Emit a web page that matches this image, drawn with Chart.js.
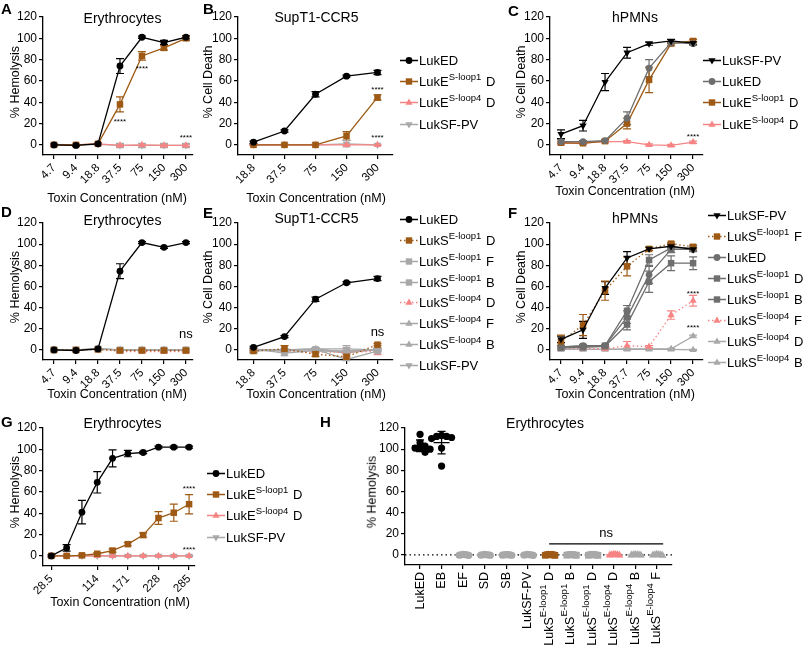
<!DOCTYPE html>
<html><head><meta charset="utf-8">
<script src="https://cdn.jsdelivr.net/npm/chart.js@4.4.1/dist/chart.umd.min.js"></script>
<style>
html,body{margin:0;padding:0;background:#fff}
body{width:805px;height:650px;position:relative;overflow:hidden;font-family:"Liberation Sans",Arial,Helvetica,sans-serif;color:#000}
canvas{position:absolute}
.t{position:absolute;white-space:nowrap;line-height:1;z-index:2}
.c{transform:translate(-50%,-50%)}
.v{transform:translate(-50%,-50%) rotate(-90deg)}
.lt{font-weight:bold;font-size:15px;transform:translateY(-50%)}
.ttl{font-size:14px}
.ax{font-size:12.5px}
.lg{position:absolute;white-space:nowrap;line-height:1;font-size:13px;transform:translateY(-50%);display:flex;align-items:center;z-index:2}
.lg svg{display:block;margin-right:1px}
sup{font-size:9.5px;vertical-align:0;position:relative;top:-6px;margin-right:1px}
</style></head><body>
<script>
// ---------------- DATA ----------------
const yTicks=[0,20,40,60,80,100,120];
const concA=['4.7','9.4','18.8','37.5','75','150','300'];
const concB=['18.8','37.5','75','150','300'];
const concF=['4.7','9.4','18.8','37.7','75','150','300'];
const concG=[28.5,57,85.5,114,142.5,171,199.5,228,256.5,285];
const concGTicks=[28.5,114,171,228,285];
const concGLabels=['28.5','114','171','228','285'];

// Panel A (Erythrocytes)
const A_LukED=[0,-0.5,1,74,101,96,101], A_LukED_err=[1,1,1,7,1,2,1.5];
const A_S1D=[0,0,1,38,83.5,91,100], A_S1D_err=[0.5,0.5,0.5,7,4,2,2];
const A_S4D=[0,0,1,-0.5,0,-0.5,-0.5], A_S4D_err=[0.5,0.5,0.5,1,1,1,1];
const A_SFPV=[0,0,0.5,-0.5,-0.5,-0.5,-0.5], A_SFPV_err=[0,0,0,2,2,2,2];
// Panel B (SupT1-CCR5)
const B_LukED=[2.5,13,47.5,64.5,68], B_LukED_err=[1,1,2.5,1,2];
const B_S1D=[0,0,0,8.5,44.5], B_S1D_err=[0.5,0.5,0.5,4,2.5];
const B_S4D=[0,0,0,0,0], B_S4D_err=[0.5,0.5,0.5,0.5,0.5];
const B_SFPV=[0,0,0,1,0], B_SFPV_err=[0,0,0,3,0];
// Panel C (hPMNs)
const C_SFPV=[10,18,59,86.5,95,97.5,95.5], C_SFPV_err=[4,5,8,5,1.5,1.5,1.5];
const C_LukED=[3,3,4,25,72,96,95], C_LukED_err=[2,1,1,6,8,1,1.5];
const C_S1D=[2,1.5,3.5,20,61,95,97.5], C_S1D_err=[1,1,1,5,12,1.5,1.5];
const C_S4D=[1.5,2,3,3,0,-0.5,2.5], C_S4D_err=[1,1,1,1,1,1,1];
// Panel D (Erythrocytes)
const D_LukED=[0,-0.5,1,74.5,101.5,97,101.5], D_LukED_err=[1,1,1,7,1,1,1];
const D_E1D=[0,0,0.5,-0.5,-0.5,-0.5,-0.5];
const D_E1F=[0,0,1,0,0,0,0];
const D_E1B=[0,0,1,0,0,0,0];
const D_E4D=[0,0,1,-1.5,-1.5,-1.5,-1.5];
const D_E4F=[0,0,1,0,0,0,0];
const D_E4B=[0,0,1,0,0,0,0];
const D_SFPV=[0,0,0.5,0,0,0,0];
const D_small_err=[1,1,1,1,1,1,1];
// Panel E (SupT1-CCR5)
const E_LukED=[2.5,12.6,48,63.5,67.5], E_LukED_err=[1,1,2,1,2];
const E_E1D=[-1,1,-4,-6.5,5], E_E1D_err=[1,3,2,3,1];
const E_E1F=[1,-3,-0.5,-1,0.5], E_E1F_err=[1,2,1,1,1];
const E_E1B=[0,-1,0.5,-9,-1], E_E1B_err=[1,1,1,1,1];
const E_E4D=[0,-1,-2,-2,-1.5], E_E4D_err=[1,1,1,4,3];
const E_E4F=[0.5,0,1,-2,0], E_E4F_err=[1,1,1,1,1];
const E_E4B=[-1,0,0,-3,1], E_E4B_err=[1,1,1,1,1];
const E_SFPV=[0,0,1,1,0], E_SFPV_err=[3,1,1,3,1];
// Panel F (hPMNs)
const F_SFPV=[10,19,58.5,87,95.5,98,95], F_SFPV_err=[3,8,6,6,1.5,1.5,1.5];
const F_E1F=[8,23.5,56,79,95.5,100.5,97.5], F_E1F_err=[6,10,9,9,1.5,1.5,1.5];
const F_LukED=[3,4,4,31,71,95,95], F_LukED_err=[1,1,1,6,8,3,2];
const F_E1D=[3,3.5,4,37,85,96.5,96.5], F_E1D_err=[1,1,1,5,5,4,2];
const F_E1B=[2,2.5,3.5,24,64.5,82,82], F_E1B_err=[1,1,1,5,10,7,6];
const F_E4F=[1.5,1.5,1,4,3,33,46.5], F_E4F_err=[1,1,1,4,1,4,5];
const F_E4D=[0.5,0.5,0.5,1,1,1,13], F_E4D_err=[0.5,0.5,0.5,0.5,0.5,0.5,1];
const F_E4B=[0.5,0.5,0.5,0.5,0.5,0.5,0], F_E4B_err=[0.5,0.5,0.5,0.5,0.5,0.5,0.5];
// Panel G (Erythrocytes)
const G_LukED=[0,7.5,41,69,91.5,96,97,102,102,102], G_LukED_err=[1,3,11,10,8,3,1,1,1,1];
const G_S1D=[0,0,0.5,2,5,11,19.5,35.5,40.5,48.5], G_S1D_err=[0.5,0.5,1,1,1.5,1.5,2,6,8,9];
const G_S4D=[0,0,0,0,0,0,0,0,0,0], G_S4D_err=[0.5,0.5,0.5,0.5,0.5,0.5,0.5,0.5,0.5,0.5];
const G_SFPV=[0,0,0,0,0,0,0,0,0,0], G_SFPV_err=[0.5,0.5,0.5,0.5,0.5,0.5,0.5,0.5,0.5,0.5];
// Panel H (Erythrocytes, single dose)
const H_labels=[['LukED','',''],['EB','',''],['EF','',''],['SD','',''],['SB','',''],['LukSF-PV','',''],
  ['LukS','E-loop1',' D'],['LukS','E-loop1',' B'],['LukS','E-loop1',' D'],['LukS','E-loop4',' D'],['LukS','E-loop4',' B'],['LukS','E-loop4',' F']];
const H_values=[
  [97,100,101,101,103,106,114],
  [84,101,110,112,112,113,111],
  [0.4,-0.2,0.1,0.6,-0.4,0],
  [0.2,-0.3,0.1,0.5,-0.2,0],
  [0.3,-0.2,0,0.4,-0.3,0.1],
  [0.1,-0.4,0.2,0.5,-0.1,0],
  [0.5,-0.3,0.2,0.6,-0.4,0.1],
  [0.3,-0.3,0,0.5,-0.2,0.1],
  [0.4,-0.4,0.1,0.6,-0.3,0],
  [0.3,-0.2,0.1,0.5,-0.3,0],
  [0.2,-0.3,0,0.4,-0.2,0.1],
  [0.3,-0.4,0.1,0.5,-0.2,0]];

// ---------------- STYLE ----------------
const FONT='"Liberation Sans", Arial, sans-serif';
const BLACK='#000000', BROWN='#9E5A14', PINK='#F78484', LGRAY='#A8A8A8', DGRAY='#6E6E6E';
const H_colors=[BLACK,BLACK,LGRAY,LGRAY,LGRAY,LGRAY,BROWN,LGRAY,LGRAY,PINK,LGRAY,LGRAY];
const H_shapes=['circle','circle','circle','circle','circle','circle','square','square','square','tri','tri','tri'];
const YW=40, PT=12, PR=14;

const errPlugin={id:'errbars',beforeDatasetsDraw(chart){
  const ctx=chart.ctx, ys=chart.scales.y;
  chart.data.datasets.forEach((ds,i)=>{
    if(!ds.err) return;
    const meta=chart.getDatasetMeta(i);
    ctx.save(); ctx.strokeStyle=ds.borderColor; ctx.lineWidth=1.2; ctx.setLineDash([]);
    meta.data.forEach((pt,j)=>{
      const e=ds.err[j]; if(!e) return;
      const v=ds.data[j].y;
      const y1=ys.getPixelForValue(v+e), y2=ys.getPixelForValue(v-e), x=pt.x;
      ctx.beginPath(); ctx.moveTo(x,y1); ctx.lineTo(x,y2);
      ctx.moveTo(x-4,y1); ctx.lineTo(x+4,y1); ctx.moveTo(x-4,y2); ctx.lineTo(x+4,y2); ctx.stroke();
    });
    ctx.restore();
  });
}};
const notePlugin={id:'notes',afterDatasetsDraw(chart){
  const n=chart.data.notes; if(!n) return;
  const ctx=chart.ctx, xs=chart.scales.x, ys=chart.scales.y;
  ctx.save(); ctx.fillStyle='#000'; ctx.textAlign='center'; ctx.textBaseline='middle';
  n.forEach(o=>{ctx.font=o.size+'px '+FONT; ctx.fillText(o.text, xs.getPixelForValue(o.x), ys.getPixelForValue(o.y));});
  ctx.restore();
}};

function axisCommon(size){return {
  grid:{drawOnChartArea:false,color:'#000',lineWidth:1.2,tickLength:4},
  border:{color:'#000',width:1.3},
  ticks:{color:'#000',font:{family:FONT,size:size},padding:2}
};}

function series(vals,err,xs,color,shape,dashed){
  const st={circle:['circle',3.4,0],square:['rect',4.6,0],tri:['triangle',4.2,0],down:['triangle',4.2,180]}[shape];
  return {data:vals.map((v,i)=>({x:xs[i],y:v})),err,borderColor:color,backgroundColor:color,
    pointStyle:st[0],pointRadius:st[1],pointRotation:st[2],pointBorderWidth:0,borderWidth:1.3,
    borderDash:dashed?[1.5,2.5]:[],tension:0,fill:false,showLine:true};
}

function makeChart(area,xOpt,datasets,extras,type,plugins,xh){
  const XH=xh||50;
  const cv=document.createElement('canvas');
  const w=Math.round(area.r-area.l+YW+PR), h=Math.round(area.b-area.t+PT+XH);
  cv.width=w; cv.height=h;
  Object.assign(cv.style,{left:(area.l-YW)+'px',top:(area.t-PT)+'px',width:w+'px',height:h+'px'});
  document.body.appendChild(cv);
  const xc=axisCommon(11.5), yc=axisCommon(12);
  return new Chart(cv,{type:type||'line',
    data:Object.assign({datasets},extras||{}),
    options:{responsive:false,animation:false,devicePixelRatio:1,
      layout:{padding:{top:PT,right:PR,left:0,bottom:0}},
      plugins:{legend:{display:false},tooltip:{enabled:false}},
      scales:{
        x:{type:'linear',min:xOpt.min,max:xOpt.max,
          afterBuildTicks:s=>{s.ticks=xOpt.ticks.map(v=>({value:v}));},
          afterFit:s=>{s.height=XH;},
          grid:xc.grid,border:xc.border,
          ticks:Object.assign(xc.ticks,{autoSkip:false,maxRotation:xOpt.rot,minRotation:xOpt.rot,callback:(v,i)=>xOpt.labels[i]})},
        y:{type:'linear',min:-9.5,max:120,
          afterBuildTicks:s=>{s.ticks=yTicks.map(v=>({value:v}));},
          afterFit:s=>{s.width=YW;},
          grid:yc.grid,border:yc.border,ticks:yc.ticks}
      }},
    plugins:plugins||[errPlugin,notePlugin]});
}

// ---------------- HTML text helpers ----------------
function txt(html,x,y,cls){const d=document.createElement('div');d.className='t '+cls;d.style.left=x+'px';d.style.top=y+'px';d.innerHTML=html;document.body.appendChild(d);}
function marker(color,shape,dashed){
  const line=`<line x1="0" y1="6" x2="18" y2="6" stroke="${color}" stroke-width="1.3" ${dashed?'stroke-dasharray="1.5,2.5"':''}/>`;
  let m='';
  if(shape==='circle') m=`<circle cx="9" cy="6" r="3.4" fill="${color}"/>`;
  else if(shape==='square') m=`<rect x="5.8" y="2.8" width="6.4" height="6.4" fill="${color}"/>`;
  else if(shape==='tri') m=`<polygon points="9,2 12.6,8.3 5.4,8.3" fill="${color}"/>`;
  else m=`<polygon points="5.4,3.7 12.6,3.7 9,10" fill="${color}"/>`;
  return `<svg width="18" height="12" viewBox="0 0 18 12">${line}${m}</svg>`;
}
function legend(x,ys,items){
  items.forEach((it,i)=>{const d=document.createElement('div');d.className='lg';d.style.left=x+'px';d.style.top=ys[i]+'px';
    d.innerHTML=marker(it[0],it[1],it[2])+'<span>'+it[3]+'</span>';document.body.appendChild(d);});
}

const idx7=[0,1,2,3,4,5,6], idx5=[0,1,2,3,4];
const xs7={min:-0.5,max:6.32,ticks:idx7,labels:concA,rot:45};
const xs5={min:-0.5,max:4.5,ticks:idx5,labels:concB,rot:45};

// ---------------- Panel A ----------------
makeChart({l:43,r:193,t:17,b:155},xs7,[
  series(A_LukED,A_LukED_err,idx7,BLACK,'circle'),
  series(A_S1D,A_S1D_err,idx7,BROWN,'square'),
  series(A_S4D,A_S4D_err,idx7,PINK,'tri'),
  series(A_SFPV,A_SFPV_err,idx7,LGRAY,'down')],
  {notes:[{x:3,y:22,text:'****',size:8},{x:4,y:71,text:'****',size:8},{x:6,y:7,text:'****',size:8}]});
// ---------------- Panel B ----------------
makeChart({l:238,r:393,t:17,b:155},xs5,[
  series(B_LukED,B_LukED_err,idx5,BLACK,'circle'),
  series(B_S1D,B_S1D_err,idx5,BROWN,'square'),
  series(B_S4D,B_S4D_err,idx5,PINK,'tri'),
  series(B_SFPV,B_SFPV_err,idx5,LGRAY,'down')],
  {notes:[{x:4,y:52,text:'****',size:8},{x:4,y:7,text:'****',size:8}]});
// ---------------- Panel C ----------------
makeChart({l:550,r:703,t:17,b:155},{min:-0.5,max:6.45,ticks:idx7,labels:concA,rot:45},[
  series(C_SFPV,C_SFPV_err,idx7,BLACK,'down'),
  series(C_LukED,C_LukED_err,idx7,DGRAY,'circle'),
  series(C_S1D,C_S1D_err,idx7,BROWN,'square'),
  series(C_S4D,C_S4D_err,idx7,PINK,'tri')],
  {notes:[{x:6,y:8,text:'****',size:8}]});
// ---------------- Panel D ----------------
makeChart({l:43,r:193,t:223,b:360},xs7,[
  series(D_LukED,D_LukED_err,idx7,BLACK,'circle'),
  series(D_E1D,D_small_err,idx7,BROWN,'square',true),
  series(D_E1F,D_small_err,idx7,LGRAY,'square'),
  series(D_E1B,D_small_err,idx7,LGRAY,'square'),
  series(D_E4D,D_small_err,idx7,PINK,'tri',true),
  series(D_E4F,D_small_err,idx7,LGRAY,'tri'),
  series(D_E4B,D_small_err,idx7,LGRAY,'tri'),
  series(D_SFPV,D_small_err,idx7,LGRAY,'down')],
  {notes:[{x:6,y:15,text:'ns',size:13}]});
// ---------------- Panel E ----------------
makeChart({l:238,r:393,t:223,b:360},xs5,[
  series(E_LukED,E_LukED_err,idx5,BLACK,'circle'),
  series(E_E1D,E_E1D_err,idx5,BROWN,'square',true),
  series(E_E1F,E_E1F_err,idx5,LGRAY,'square'),
  series(E_E1B,E_E1B_err,idx5,LGRAY,'square'),
  series(E_E4D,E_E4D_err,idx5,PINK,'tri',true),
  series(E_E4F,E_E4F_err,idx5,LGRAY,'tri'),
  series(E_E4B,E_E4B_err,idx5,LGRAY,'tri'),
  series(E_SFPV,E_SFPV_err,idx5,LGRAY,'down')],
  {notes:[{x:4,y:17,text:'ns',size:13}]});
// ---------------- Panel F ----------------
makeChart({l:550,r:703,t:223,b:360},{min:-0.5,max:6.45,ticks:idx7,labels:concF,rot:45},[
  series(F_SFPV,F_SFPV_err,idx7,BLACK,'down'),
  series(F_E1F,F_E1F_err,idx7,BROWN,'square',true),
  series(F_LukED,F_LukED_err,idx7,DGRAY,'circle'),
  series(F_E1D,F_E1D_err,idx7,DGRAY,'square'),
  series(F_E1B,F_E1B_err,idx7,DGRAY,'square'),
  series(F_E4F,F_E4F_err,idx7,PINK,'tri',true),
  series(F_E4D,F_E4D_err,idx7,LGRAY,'tri'),
  series(F_E4B,F_E4B_err,idx7,LGRAY,'tri')],
  {notes:[{x:6,y:53,text:'****',size:8},{x:6,y:21,text:'****',size:8}]});
// ---------------- Panel G ----------------
makeChart({l:43,r:195,t:428,b:566},{min:13,max:296,ticks:concGTicks,labels:concGLabels,rot:45},[
  series(G_LukED,G_LukED_err,concG,BLACK,'circle'),
  series(G_S1D,G_S1D_err,concG,BROWN,'square'),
  series(G_S4D,G_S4D_err,concG,PINK,'tri'),
  series(G_SFPV,G_SFPV_err,concG,LGRAY,'down')],
  {notes:[{x:285,y:63,text:'****',size:8},{x:285,y:6,text:'****',size:8}]});

// ---------------- Panel H ----------------
function swarm(vals,pxX,pxY,d){
  const placed=[], offs=new Array(vals.length);
  const order=vals.map((v,i)=>i).sort((a,b)=>vals[b]-vals[a]);
  const cand=[0]; for(let s=1;s<30;s++){cand.push(s*d/pxX,-s*d/pxX);}
  for(const i of order){
    for(const c of cand){
      if(placed.every(p=>Math.hypot((p.x-c)*pxX,(p.y-vals[i])*pxY)>=d)){offs[i]=c;placed.push({x:c,y:vals[i]});break;}
    }
  }
  return offs;
}
const hPlugin={id:'hextra',
  beforeDatasetsDraw(chart){
    const ctx=chart.ctx, ca=chart.chartArea, ys=chart.scales.y;
    const y0=ys.getPixelForValue(0);
    ctx.save(); ctx.strokeStyle='#000'; ctx.lineWidth=1.2; ctx.setLineDash([1.5,3]);
    ctx.beginPath(); ctx.moveTo(ca.left,y0); ctx.lineTo(ca.right,y0); ctx.stroke(); ctx.restore();
  },
  afterDatasetsDraw(chart){
    const ctx=chart.ctx, xs=chart.scales.x, ys=chart.scales.y;
    ctx.save(); ctx.lineWidth=1.3;
    chart.data.datasets.forEach(ds=>{
      const v=ds.hv, n=v.length, m=v.reduce((a,b)=>a+b,0)/n;
      const sd=Math.sqrt(v.reduce((a,b)=>a+(b-m)*(b-m),0)/(n-1));
      const x=xs.getPixelForValue(ds.cat), ym=ys.getPixelForValue(m), yt=ys.getPixelForValue(m+sd), yb=ys.getPixelForValue(m-sd);
      ctx.strokeStyle=ds.borderColor;
      ctx.beginPath(); ctx.moveTo(x-8,ym); ctx.lineTo(x+8,ym);
      ctx.moveTo(x,yt); ctx.lineTo(x,yb); ctx.moveTo(x-4,yt); ctx.lineTo(x+4,yt); ctx.moveTo(x-4,yb); ctx.lineTo(x+4,yb);
      ctx.stroke();
    });
    const b=chart.data.bracket;
    ctx.strokeStyle='#000'; ctx.beginPath();
    ctx.moveTo(xs.getPixelForValue(b.x1),ys.getPixelForValue(b.y)); ctx.lineTo(xs.getPixelForValue(b.x2),ys.getPixelForValue(b.y)); ctx.stroke();
    ctx.restore();
  },
  afterDraw(chart){
    const labs=chart.data.hLabels, ctx=chart.ctx, xs=chart.scales.x, y0=chart.chartArea.bottom+7;
    const f1='12.5px '+FONT, f2='9.5px '+FONT;
    labs.forEach((l,i)=>{
      const x=xs.getPixelForValue(i);
      ctx.save(); ctx.fillStyle='#000'; ctx.textBaseline='middle'; ctx.textAlign='left';
      ctx.font=f1; const w1=ctx.measureText(l[0]).width, w3=ctx.measureText(l[2]).width;
      ctx.font=f2; const w2=ctx.measureText(l[1]).width;
      const W=w1+w2+w3;
      ctx.translate(x,y0); ctx.rotate(-Math.PI/2);
      ctx.font=f1; ctx.fillText(l[0],-W,0);
      ctx.font=f2; ctx.fillText(l[1],-W+w1,-6);
      ctx.font=f1; ctx.fillText(l[2],-W+w1+w2,0);
      ctx.restore();
    });
  }
};
const hDatasets=H_values.map((vals,i)=>{
  const big=Math.max(...vals)>50;
  const offs=swarm(vals,21.5,1.06,big?5:1.9);
  const st={circle:['circle',3.6],square:['rect',4.8],tri:['triangle',4.6]}[H_shapes[i]];
  return {data:vals.map((v,j)=>({x:i+offs[j],y:v})),hv:vals,cat:i,borderColor:H_colors[i],backgroundColor:H_colors[i],
    pointStyle:st[0],pointRadius:st[1],pointBorderWidth:0,showLine:false};
});
makeChart({l:405,r:672,t:428,b:565},{min:-0.7,max:11.71,ticks:[0,1,2,3,4,5,6,7,8,9,10,11],labels:H_labels.map(()=>''),rot:0},
  hDatasets,{hLabels:H_labels,bracket:{x1:6,x2:11.3,y:10.5},notes:[{x:8.65,y:20,text:'ns',size:13}]},'scatter',[hPlugin,notePlugin],90);

// ---------------- Text ----------------
[['A',1,8],['B',203,8],['C',508,10],['D',1,211],['E',203,212],['F',508,212],['G',1,421],['H',320,421]].forEach(a=>txt(a[0],a[1],a[2],'lt'));
[['Erythrocytes',122.5,18],['SupT1-CCR5',316.5,17],['hPMNs',635,17],['Erythrocytes',122.5,219.5],['SupT1-CCR5',316.5,218],['hPMNs',635,218],['Erythrocytes',122.5,423],['Erythrocytes',545,423]].forEach(a=>txt(a[0],a[1],a[2],'ttl c'));
[['% Hemolysis',15,82],['% Cell Death',208,82],['% Cell Death',521,82],['% Hemolysis',15,287],['% Cell Death',208,287],['% Cell Death',521,287],['% Hemolysis',15,492],['% Hemolysis',372,492]].forEach(a=>txt(a[0],a[1],a[2],'ax v'));
[['Toxin Concentration (nM)',117,198],['Toxin Concentration (nM)',316,198],['Toxin Concentration (nM)',625,191],['Toxin Concentration (nM)',117,394],['Toxin Concentration (nM)',316,394],['Toxin Concentration (nM)',625,394],['Toxin Concentration (nM)',120,602]].forEach(a=>txt(a[0],a[1],a[2],'ax c'));

const S1='LukE<sup>S-loop1</sup> D', S4='LukE<sup>S-loop4</sup> D';
legend(400,[60,81,102,124],[[BLACK,'circle',false,'LukED'],[BROWN,'square',false,S1],[PINK,'tri',false,S4],[LGRAY,'down',false,'LukSF-PV']]);
legend(703,[60,81,102,124],[[BLACK,'down',false,'LukSF-PV'],[DGRAY,'circle',false,'LukED'],[BROWN,'square',false,S1],[PINK,'tri',false,S4]]);
legend(400,[219,240,261,282,302,323,344,365],[[BLACK,'circle',false,'LukED'],[BROWN,'square',true,'LukS<sup>E-loop1</sup> D'],[LGRAY,'square',false,'LukS<sup>E-loop1</sup> F'],[LGRAY,'square',false,'LukS<sup>E-loop1</sup> B'],[PINK,'tri',true,'LukS<sup>E-loop4</sup> D'],[LGRAY,'tri',false,'LukS<sup>E-loop4</sup> F'],[LGRAY,'tri',false,'LukS<sup>E-loop4</sup> B'],[LGRAY,'down',false,'LukSF-PV']]);
legend(708,[215,236,257,278,299,320,341,362],[[BLACK,'down',false,'LukSF-PV'],[BROWN,'square',true,'LukS<sup>E-loop1</sup> F'],[DGRAY,'circle',false,'LukED'],[DGRAY,'square',false,'LukS<sup>E-loop1</sup> D'],[DGRAY,'square',false,'LukS<sup>E-loop1</sup> B'],[PINK,'tri',true,'LukS<sup>E-loop4</sup> F'],[LGRAY,'tri',false,'LukS<sup>E-loop4</sup> D'],[LGRAY,'tri',false,'LukS<sup>E-loop4</sup> B']]);
legend(207,[473,494,515,537],[[BLACK,'circle',false,'LukED'],[BROWN,'square',false,S1],[PINK,'tri',false,S4],[LGRAY,'down',false,'LukSF-PV']]);
</script></body></html>
